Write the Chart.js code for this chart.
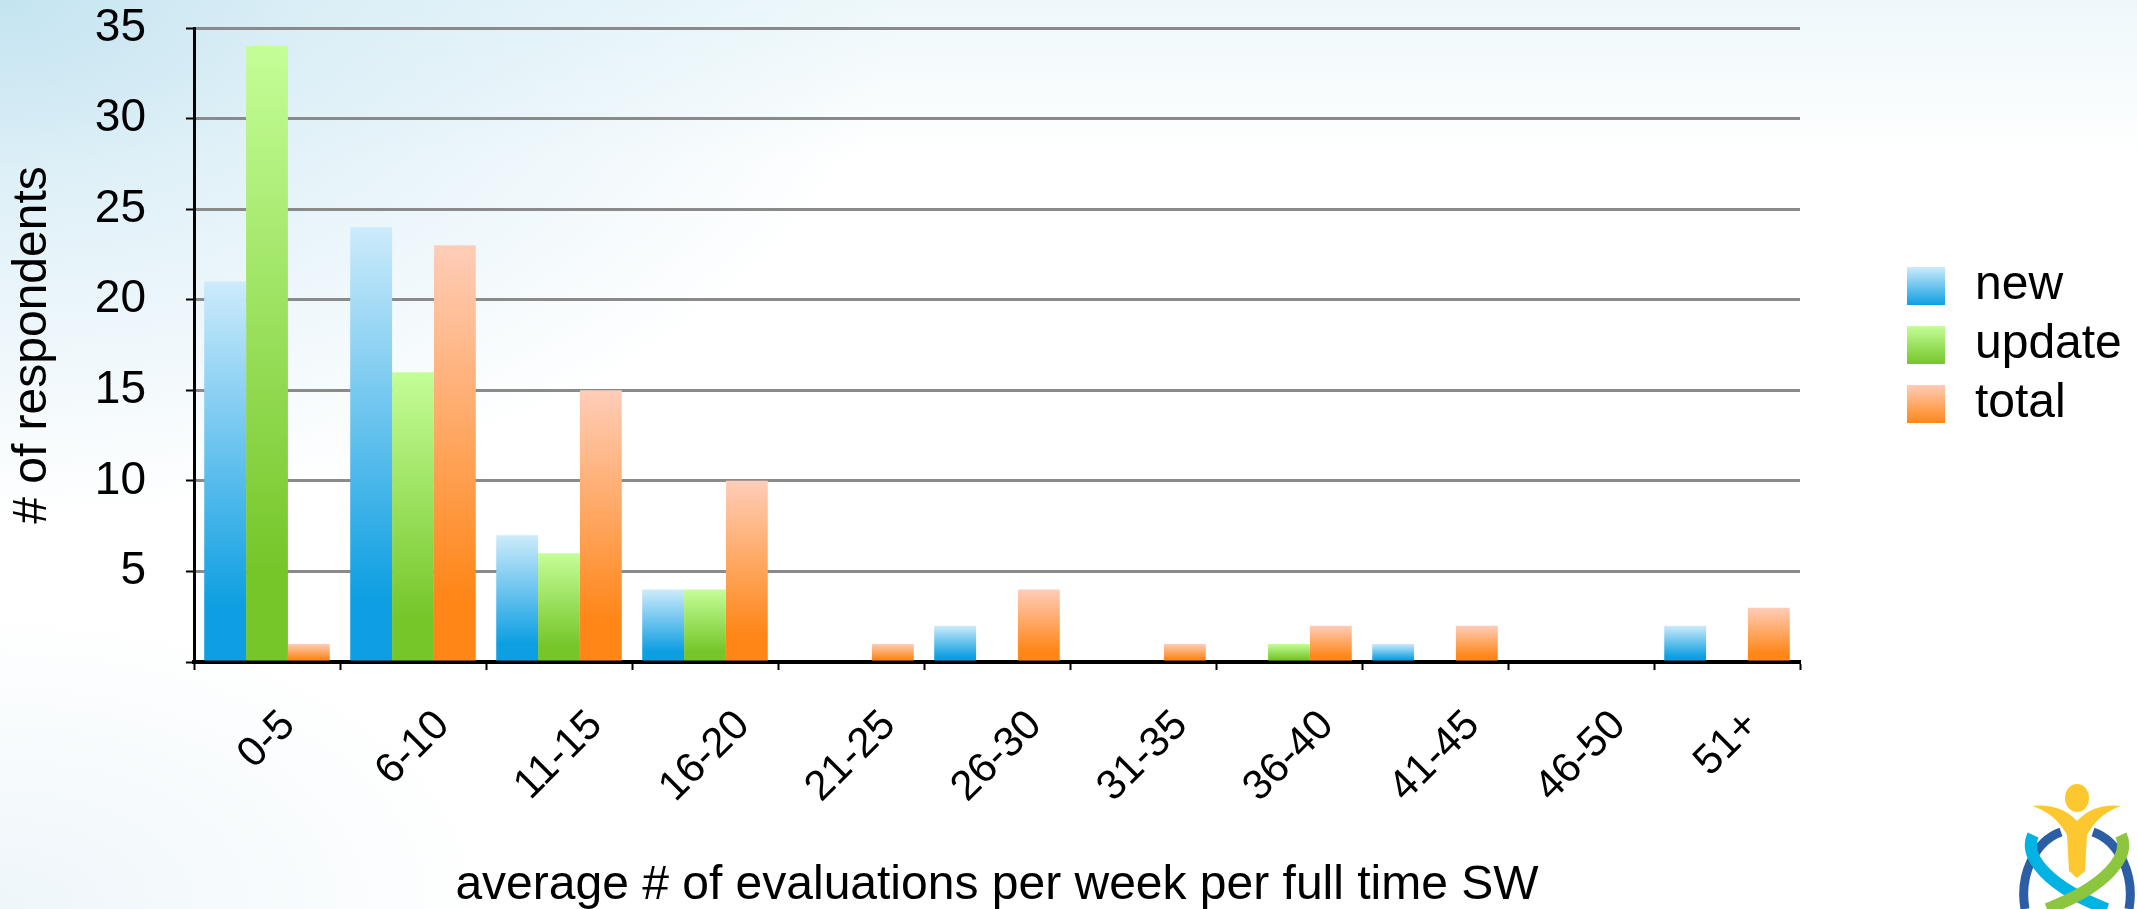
<!DOCTYPE html>
<html>
<head>
<meta charset="utf-8">
<script src="https://cdn.jsdelivr.net/npm/chart.js@4/dist/chart.umd.min.js"></script>
<style>
  html, body { margin: 0; padding: 0; }
  body {
    width: 2137px; height: 909px; overflow: hidden; position: relative;
    background:
      radial-gradient(ellipse 900px 520px at 0 0, #c4e4f1 0%, rgba(212,235,245,0.75) 35%, rgba(255,255,255,0) 100%),
      linear-gradient(to bottom, #eef8fb 0, rgba(255,255,255,0) 160px),
      radial-gradient(ellipse 500px 300px at 0 100%, #eef6fa 0%, rgba(255,255,255,0) 100%),
      #ffffff;
  }
  #wrap { position: absolute; left: 0; top: 0; width: 2137px; height: 909px; }
  #logo { position: absolute; left: 2015px; top: 775px; }
</style>
</head>
<body>
<div id="wrap"><canvas id="chart" width="2137" height="909"></canvas></div>
<svg id="logo" width="122" height="134" viewBox="0 0 122 134">
  <path d="M10,134 C4,100 20,66 46,57" fill="none" stroke="#2b5ea5" stroke-width="9"/>
  <path d="M114,134 C120,100 104,66 78,57" fill="none" stroke="#2b5ea5" stroke-width="9"/>
  <path d="M18,60 C8,82 34,112 92,134" fill="none" stroke="#00b3e3" stroke-width="12"/>
  <path d="M106,60 C116,82 90,112 32,134" fill="none" stroke="#8cc63f" stroke-width="12"/>
  <ellipse cx="62" cy="23" rx="12" ry="14" fill="#fdc82f"/>
  <path d="M17,31 Q45,28 62,46 Q79,28 106,31 Q84,38 72,60 L70,96 L62,103 L54,96 L52,60 Q40,38 17,31 Z" fill="#fdc82f"/>
</svg>
<script>
// categories and series
const categories = ['0-5', '6-10', '11-15', '16-20', '21-25', '26-30', '31-35', '36-40', '41-45', '46-50', '51+'];
const newValues    = [21, 24, 7, 4, 0, 2, 0, 0, 1, 0, 2];
const updateValues = [34, 16, 6, 4, 0, 0, 0, 1, 0, 0, 0];
const totalValues  = [1, 23, 15, 10, 1, 4, 1, 2, 2, 0, 3];
const seriesNames  = ['new', 'update', 'total'];
const yTicks = [5, 10, 15, 20, 25, 30, 35];

const FONT = '"Liberation Sans", Arial, Helvetica, sans-serif';
const FONT_SIZE = 48;
const X_FONT_SIZE = 42;

// light (top) -> saturated (bottom) for each series
const palette = [
  { light: '#cdebfb', dark: '#0e9fe2' },
  { light: '#c4fe98', dark: '#76c62a' },
  { light: '#ffcdb8', dark: '#ff8617' },
];

// each bar gets its own vertical gradient
function barFill(i) {
  return function (ctx) {
    const chart = ctx.chart;
    if (!chart.chartArea || ctx.type !== 'data') return palette[i].dark;
    const y = chart.scales.y;
    const top = y.getPixelForValue(ctx.raw);
    const bottom = y.getPixelForValue(0);
    if (bottom - top < 1) return palette[i].dark;
    const g = chart.ctx.createLinearGradient(0, top, 0, bottom);
    g.addColorStop(0, palette[i].light);
    g.addColorStop(0.85, palette[i].dark);
    g.addColorStop(1, palette[i].dark);
    return g;
  };
}

// little gradient squares for the legend
function legendSwatch(i) {
  const c = document.createElement('canvas');
  c.width = 38; c.height = 38;
  const x = c.getContext('2d');
  const g = x.createLinearGradient(0, 0, 0, 38);
  g.addColorStop(0, palette[i].light);
  g.addColorStop(1, palette[i].dark);
  x.fillStyle = g;
  x.fillRect(0, 0, 38, 38);
  return c;
}
const swatches = palette.map((p, i) => legendSwatch(i));

// reserve a fixed strip for the legend, and start its items a bit right of the plot
const legendPlacement = {
  id: 'legendPlacement',
  afterInit(chart) {
    const legend = chart.legend;
    const fit = legend.fit;
    legend.fit = function () {
      fit.call(this);
      this.width = 337;
    };
  },
  afterLayout(chart) {
    chart.legend.left = chart.chartArea.right + 90;
  }
};

// rotated x labels: centred under their category, tops lined up
const centredLabels = {
  id: 'centredLabels',
  beforeDraw(chart) {
    const xs = chart.scales.x;
    const items = xs.getLabelItems(chart.chartArea);
    const ctx = chart.ctx;
    const lh = X_FONT_SIZE * 1.2;
    const labelTop = xs.top + 46;
    ctx.save();
    ctx.font = X_FONT_SIZE + 'px ' + FONT;
    items.forEach((it, i) => {
      const w = ctx.measureText(it.label).width;
      const ext = (w + 0.72 * X_FONT_SIZE) * Math.SQRT1_2;
      const cx = xs.getPixelForTick(i);
      const cy = labelTop + ext / 2;
      it.options.textAlign = 'center';
      it.options.translation = [cx - lh / 2 * Math.SQRT1_2, cy - lh / 2 * Math.SQRT1_2];
    });
    ctx.restore();
  }
};

new Chart(document.getElementById('chart'), {
  type: 'bar',
  data: {
    labels: categories,
    datasets: [newValues, updateValues, totalValues].map((vals, i) => ({
      label: seriesNames[i],
      data: vals,
      backgroundColor: barFill(i),
      borderWidth: 0,
      categoryPercentage: 0.86,
      barPercentage: 1.0,
    })),
  },
  options: {
    responsive: false,
    animation: false,
    layout: { padding: { top: 28, left: 0, right: 0, bottom: 0 } },
    plugins: {
      tooltip: { enabled: false },
      legend: {
        position: 'right',
        fullSize: false,
        labels: {
          usePointStyle: true,
          boxWidth: 38,
          boxHeight: 38,
          pointStyleWidth: 50,
          padding: 11,
          color: '#000',
          font: { family: FONT, size: FONT_SIZE },
          generateLabels: (chart) => chart.data.datasets.map((ds, i) => ({
            text: ds.label,
            pointStyle: swatches[i],
            fillStyle: palette[i].dark,
            strokeStyle: palette[i].dark,
            lineWidth: 0,
            hidden: false,
            datasetIndex: i,
          })),
        },
      },
    },
    scales: {
      x: {
        afterFit: (s) => { s.height = 247; },
        grid: { drawOnChartArea: false, tickColor: '#000', tickLength: 8, tickWidth: 2 },
        border: { color: '#000', width: 4 },
        ticks: {
          autoSkip: false,
          maxRotation: 45,
          minRotation: 45,
          padding: 28,
          color: '#000',
          font: { family: FONT, size: X_FONT_SIZE },
        },
        title: {
          display: true,
          text: 'average # of evaluations per week per full time SW',
          color: '#000',
          font: { family: FONT, size: FONT_SIZE },
          padding: { top: 0, bottom: -6 },
        },
      },
      y: {
        min: 0,
        max: 35,
        afterFit: (s) => {
          s.width = 194;
          s.paddingTop = 0;
          s.paddingBottom = 0;
        },
        grid: { color: '#8a8a8a', lineWidth: 3, tickColor: '#000', tickLength: 8, tickWidth: 2 },
        border: { color: '#000', width: 3 },
        ticks: {
          stepSize: 5,
          padding: 40,
          color: '#000',
          font: { family: FONT, size: 46 },
          callback: (v) => (yTicks.includes(v) ? String(v) : ''),
        },
        title: {
          display: true,
          text: '# of respondents',
          color: '#000',
          font: { family: FONT, size: FONT_SIZE },
          padding: { top: 4, bottom: 4 },
        },
      },
    },
  },
  plugins: [legendPlacement, centredLabels],
});
</script>
</body>
</html>
